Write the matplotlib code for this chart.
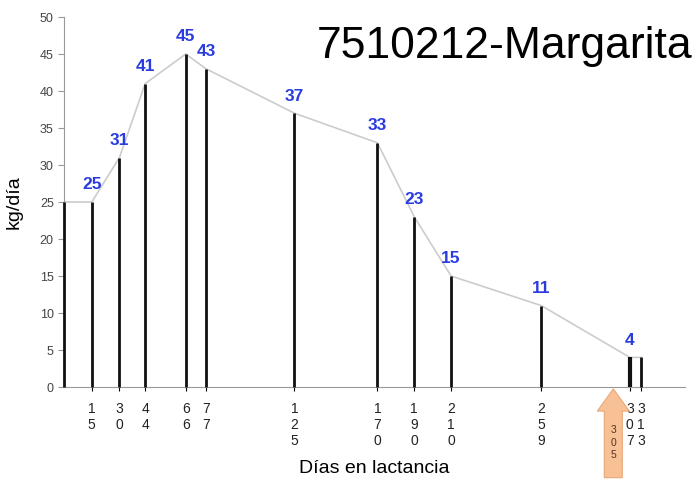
import matplotlib
matplotlib.use("Agg")
import matplotlib.pyplot as plt
from matplotlib.patches import Polygon

plt.rcParams['font.family'] = ['Liberation Sans', 'DejaVu Sans']

days = [0, 15, 30, 44, 66, 77, 125, 170, 190, 210, 259, 307, 313]
kg = [25, 25, 31, 41, 45, 43, 37, 33, 23, 15, 11, 4, 4]
show_label = [False, True, True, True, True, True, True, True, True, True, True, True, False]
tick_days = days[1:]
tick_labels = ["\n".join(str(d)) for d in tick_days]
title = "7510212-Margarita"
arrow_day = 298
arrow_text = "3\n0\n5"

fig = plt.figure(figsize=(6.97, 4.79), dpi=100)
ax = fig.add_axes([0.092, 0.192, 0.891, 0.7725])

ax.plot(days, kg, color='#cccccc', lw=1.2, zorder=1)
for d, v in zip(days, kg):
    lw = 3.0 if d == 307 else 2.0
    ax.vlines(d, 0, v, color='#111111', lw=lw, zorder=3, clip_on=False)
for d, v, s in zip(days, kg, show_label):
    if s:
        ax.text(d, v + 1.3, str(v), color='#2a3ce0', fontsize=12.5, fontweight='bold',
                ha='center', va='bottom', zorder=4)

ax.set_xlim(0, 337)
ax.set_ylim(0, 50)
ax.set_yticks(range(0, 51, 5))
ax.set_xticks(tick_days)
ax.set_xticklabels(tick_labels, fontsize=10, linespacing=1.15, va='top', color='#222222')
ax.tick_params(axis='x', length=3, color='black', pad=8)
ax.tick_params(axis='y', length=4, color='#999999', labelsize=9, labelcolor='#444444')
for s in ['top', 'right']:
    ax.spines[s].set_visible(False)
ax.spines['left'].set_color('#999999')
ax.spines['bottom'].set_color('#999999')

ax.set_ylabel('kg/día', fontsize=14, labelpad=12)
ax.set_xlabel('Días en lactancia', fontsize=14, labelpad=9)

fig.text(0.994, 0.903, title, fontsize=32, ha='right', va='center', color='black')

# arrow below axis, marking day 305
trans = ax.get_xaxis_transform()
xc = arrow_day
shape = [(-9, -0.245), (9, -0.245), (9, -0.065), (16, -0.065), (0, -0.005), (-16, -0.065), (-9, -0.065)]
verts = [(xc + dx / 1.842, yy) for dx, yy in shape]
poly = Polygon(verts, closed=True, transform=trans, clip_on=False,
               facecolor='#f8c095', edgecolor='#e8a878', lw=0.8, zorder=4)
ax.add_patch(poly)
ax.text(xc, -0.15, arrow_text, transform=trans, fontsize=7.5, ha='center', va='center',
        color='#553322', linespacing=1.3, zorder=5)

fig.savefig('out.png', dpi=100)
